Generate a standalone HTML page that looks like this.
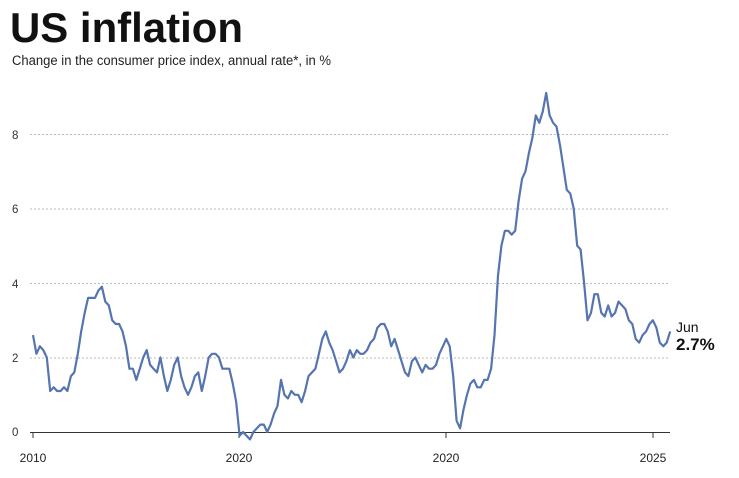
<!DOCTYPE html>
<html><head><meta charset="utf-8"><style>
body{margin:0;background:#fff;width:739px;height:473px;overflow:hidden;font-family:"Liberation Sans",sans-serif}
</style></head><body>
<svg width="739" height="473" xmlns="http://www.w3.org/2000/svg" font-family="Liberation Sans, sans-serif">
<text x="10" y="42" font-size="42" font-weight="bold" fill="#111" textLength="233" lengthAdjust="spacingAndGlyphs">US inflation</text>
<text x="12" y="65" font-size="13.5" fill="#222" textLength="319" lengthAdjust="spacingAndGlyphs">Change in the consumer price index, annual rate*, in %</text>
<g stroke="#bbb" stroke-dasharray="2,2" stroke-width="1">
<line x1="30" x2="670" y1="358" y2="358"/><line x1="30" x2="670" y1="283.5" y2="283.5"/>
<line x1="30" x2="670" y1="209" y2="209"/><line x1="30" x2="670" y1="134.5" y2="134.5"/>
</g>
<g font-size="11.5" fill="#333">
<text x="12" y="436">0</text><text x="12" y="362">2</text><text x="12" y="288">4</text><text x="12" y="213">6</text><text x="12" y="139">8</text>
</g>
<line x1="30" x2="670" y1="432.5" y2="432.5" stroke="#333" stroke-width="1"/>
<g stroke="#333"><line x1="33" x2="33" y1="432" y2="438"/><line x1="239" x2="239" y1="432" y2="438"/><line x1="446" x2="446" y1="432" y2="438"/><line x1="653" x2="653" y1="432" y2="438"/></g>
<g font-size="12" fill="#222" text-anchor="middle">
<text x="33" y="462">2010</text><text x="239" y="462">2020</text><text x="446" y="462">2020</text><text x="653" y="462">2025</text>
</g>
<polyline id="p" fill="none" stroke="#5574b0" stroke-width="2.2" stroke-linejoin="round"/>
<text x="676" y="332" font-size="14" fill="#111">Jun</text>
<text x="676" y="350" font-size="17" font-weight="bold" fill="#111">2.7%</text>
<script>
var d=[2.6,2.1,2.3,2.2,2.0,1.1,1.2,1.1,1.1,1.2,1.1,1.5,
1.6,2.1,2.7,3.2,3.6,3.6,3.6,3.8,3.9,3.5,3.4,3.0,
2.9,2.9,2.7,2.3,1.7,1.7,1.4,1.7,2.0,2.2,1.8,1.7,
1.6,2.0,1.5,1.1,1.4,1.8,2.0,1.5,1.2,1.0,1.2,1.5,
1.6,1.1,1.5,2.0,2.1,2.1,2.0,1.7,1.7,1.7,1.3,0.8,
-0.1,0.0,-0.1,-0.2,0.0,0.1,0.2,0.2,0.0,0.2,0.5,0.7,
1.4,1.0,0.9,1.1,1.0,1.0,0.8,1.1,1.5,1.6,1.7,2.1,
2.5,2.7,2.4,2.2,1.9,1.6,1.7,1.9,2.2,2.0,2.2,2.1,
2.1,2.2,2.4,2.5,2.8,2.9,2.9,2.7,2.3,2.5,2.2,1.9,
1.6,1.5,1.9,2.0,1.8,1.6,1.8,1.7,1.7,1.8,2.1,2.3,
2.5,2.3,1.5,0.3,0.1,0.6,1.0,1.3,1.4,1.2,1.2,1.4,
1.4,1.7,2.6,4.2,5.0,5.4,5.4,5.3,5.4,6.2,6.8,7.0,
7.5,7.9,8.5,8.3,8.6,9.1,8.5,8.3,8.2,7.7,7.1,6.5,
6.4,6.0,5.0,4.9,4.0,3.0,3.2,3.7,3.7,3.2,3.1,3.4,
3.1,3.2,3.5,3.4,3.3,3.0,2.9,2.5,2.4,2.6,2.7,2.9,
3.0,2.8,2.4,2.3,2.4,2.7];
var s=d.map(function(v,i){return (33+i*41.33/12).toFixed(1)+","+(432-v*37.25).toFixed(1)}).join(" ");
document.getElementById("p").setAttribute("points",s);
</script>
</svg>
</body></html>
